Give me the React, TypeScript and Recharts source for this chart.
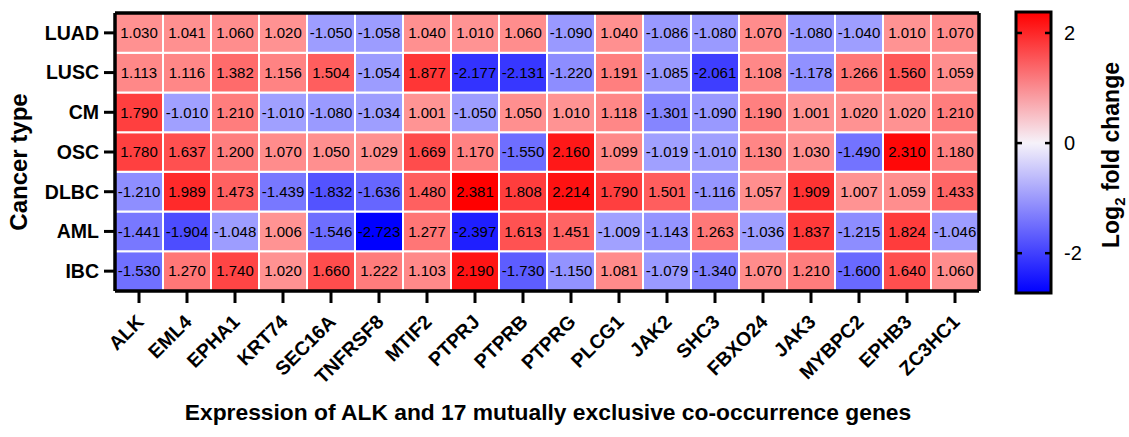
import { BarChart, Bar, XAxis, YAxis, Cell, LabelList, Label } from 'recharts';

const genes = ['ALK', 'EML4', 'EPHA1', 'KRT74', 'SEC16A', 'TNFRSF8', 'MTIF2', 'PTPRJ', 'PTPRB', 'PTPRG', 'PLCG1', 'JAK2', 'SHC3', 'FBXO24', 'JAK3', 'MYBPC2', 'EPHB3', 'ZC3HC1'];
const cancerTypes = ['LUAD', 'LUSC', 'CM', 'OSC', 'DLBC', 'AML', 'IBC'];

const luad = [1.03, 1.041, 1.06, 1.02, -1.05, -1.058, 1.04, 1.01, 1.06, -1.09, 1.04, -1.086, -1.08, 1.07, -1.08, -1.04, 1.01, 1.07];
const lusc = [1.113, 1.116, 1.382, 1.156, 1.504, -1.054, 1.877, -2.177, -2.131, -1.22, 1.191, -1.085, -2.061, 1.108, -1.178, 1.266, 1.56, 1.059];
const cm = [1.79, -1.01, 1.21, -1.01, -1.08, -1.034, 1.001, -1.05, 1.05, 1.01, 1.118, -1.301, -1.09, 1.19, 1.001, 1.02, 1.02, 1.21];
const osc = [1.78, 1.637, 1.2, 1.07, 1.05, 1.029, 1.669, 1.17, -1.55, 2.16, 1.099, -1.019, -1.01, 1.13, 1.03, -1.49, 2.31, 1.18];
const dlbc = [-1.21, 1.989, 1.473, -1.439, -1.832, -1.636, 1.48, 2.381, 1.808, 2.214, 1.79, 1.501, -1.116, 1.057, 1.909, 1.007, 1.059, 1.433];
const aml = [-1.441, -1.904, -1.048, 1.006, -1.546, -2.723, 1.277, -2.397, 1.613, 1.451, -1.009, -1.143, 1.263, -1.036, 1.837, -1.215, 1.824, -1.046];
const ibc = [-1.53, 1.27, 1.74, 1.02, 1.66, 1.222, 1.103, 2.19, -1.73, -1.15, 1.081, -1.079, -1.34, 1.07, 1.21, -1.6, 1.64, 1.06];

const rows = [luad, lusc, cm, osc, dlbc, aml, ibc];
const colorTicks = [-2, 0, 2];

const allValues = rows.flat();
const minVal = Math.min(...allValues);
const maxVal = Math.max(...allValues);

// white at 0, red at the max, blue at the min
const cellColor = (v: number) => {
  if (v >= 0) {
    const c = Math.round(255 * (1 - v / maxVal));
    return `rgb(255,${c},${c})`;
  }
  const c = Math.round(255 * (1 - v / minVal));
  return `rgb(${c},${c},255)`;
};

// one column per gene, each cancer type stacked as a unit-height cell
const table = genes.map((gene, i) => {
  const row: Record<string, string | number> = { gene };
  cancerTypes.forEach((ct, r) => {
    row[ct] = 1;
    row[`${ct}_v`] = rows[r][i];
  });
  return row;
});

const stackOrder = [...cancerTypes].reverse();
const font = '"Liberation Sans", Arial, Helvetica, sans-serif';

const GeneTick = (props: any) => {
  const { x, y, payload } = props;
  const tx = x + 6;
  const ty = y + 17;
  return (
    <text x={tx} y={ty} transform={`rotate(-45 ${tx} ${ty})`} textAnchor="end" fontSize={19.5} fontWeight="bold" fill="#000" fontFamily={font}>
      {payload.value}
    </text>
  );
};

const ScaleTick = (props: any) => {
  const { x, y, payload } = props;
  return (
    <g>
      <line x1={x - 35} x2={x - 29} y1={y} y2={y} stroke="#000" strokeWidth={2.5} />
      <line x1={x - 6} x2={x} y1={y} y2={y} stroke="#000" strokeWidth={2.5} />
      <text x={x + 13} y={y} dy="0.36em" fontSize={20} fill="#000" fontFamily={font}>
        {payload.value}
      </text>
    </g>
  );
};

const App = () => {
  return (
    <div style={{ position: 'absolute', left: 0, top: 0, width: 1129, height: 437, background: '#fff', fontFamily: font }}>
      <div style={{ position: 'absolute', left: 0, top: 0 }}>
        <BarChart width={1000} height={437} data={table} barCategoryGap={0} margin={{ top: 12, right: 20, bottom: 0, left: 0 }}>
          <XAxis
            dataKey="gene"
            type="category"
            height={146}
            interval={0}
            tickSize={12}
            tickMargin={3}
            tickLine={{ stroke: '#000', strokeWidth: 3 }}
            axisLine={{ stroke: '#000', strokeWidth: 3.5 }}
            tick={<GeneTick />}
          >
            <Label
              content={() => (
                <text x={548} y={420} textAnchor="middle" fontSize={22.8} fontWeight="bold" fill="#000" fontFamily={font}>
                  Expression of ALK and 17 mutually exclusive co-occurrence genes
                </text>
              )}
            />
          </XAxis>
          <XAxis xAxisId="top" dataKey="gene" orientation="top" height={1} tick={false} tickLine={false} axisLine={{ stroke: '#000', strokeWidth: 3.5 }} />
          <YAxis
            type="number"
            domain={[0, 7]}
            ticks={[0.5, 1.5, 2.5, 3.5, 4.5, 5.5, 6.5]}
            interval={0}
            width={115}
            tickSize={11}
            tickMargin={5}
            tickFormatter={(v: number) => cancerTypes[6 - Math.floor(v)]}
            tick={{ fontSize: 19.5, fontWeight: 'bold', fill: '#000', fontFamily: font }}
            tickLine={{ stroke: '#000', strokeWidth: 3 }}
            axisLine={{ stroke: '#000', strokeWidth: 3.5 }}
          >
            <Label
              content={() => (
                <text x={27} y={162} transform="rotate(-90 27 162)" textAnchor="middle" fontSize={24} fontWeight="bold" fill="#000" fontFamily={font}>
                  Cancer type
                </text>
              )}
            />
          </YAxis>
          <YAxis yAxisId="right" orientation="right" type="number" domain={[0, 7]} width={1} tick={false} tickLine={false} axisLine={{ stroke: '#000', strokeWidth: 3.5 }} />
          {stackOrder.map((ct) => {
            const r = cancerTypes.indexOf(ct);
            return (
              <Bar key={ct} dataKey={ct} stackId="heat" isAnimationActive={false}>
                {table.map((_, i) => (
                  <Cell key={`${ct}-${i}`} fill={cellColor(rows[r][i])} stroke="#fff" strokeWidth={2} />
                ))}
                <LabelList
                  dataKey={`${ct}_v`}
                  position="center"
                  formatter={(v: any) => Number(v).toFixed(3)}
                  style={{ fontSize: 15, fill: '#000', fontFamily: font }}
                />
              </Bar>
            );
          })}
        </BarChart>
      </div>
      <div style={{ position: 'absolute', left: 1000, top: 0 }}>
        <BarChart width={129} height={437} data={[{ name: 'scale', range: [minVal, maxVal] }]} barCategoryGap={0} margin={{ top: 12, right: 0, bottom: 144, left: 16 }}>
          <defs>
            <linearGradient id="cbGrad" x1="0" y1="0" x2="0" y2="1">
              <stop offset="0%" stopColor="#ff0000" />
              <stop offset={`${(maxVal / (maxVal - minVal)) * 100}%`} stopColor="#f6f2fa" />
              <stop offset="100%" stopColor="#0000ff" />
            </linearGradient>
          </defs>
          <XAxis dataKey="name" hide />
          <YAxis
            type="number"
            orientation="right"
            domain={[minVal, maxVal]}
            ticks={colorTicks}
            width={78}
            tickSize={0}
            tickMargin={0}
            tickLine={false}
            axisLine={false}
            tick={<ScaleTick />}
          >
            <Label
              content={() => (
                <text x={119} y={155} transform="rotate(-90 119 155)" textAnchor="middle" fontSize={23} fontWeight="bold" fill="#000" fontFamily={font}>
                  Log<tspan fontSize={15} dy={6}>2</tspan><tspan dy={-6}> fold change</tspan>
                </text>
              )}
            />
          </YAxis>
          <Bar dataKey="range" fill="url(#cbGrad)" stroke="#000" strokeWidth={3} isAnimationActive={false} />
        </BarChart>
      </div>
    </div>
  );
};

export default App;
